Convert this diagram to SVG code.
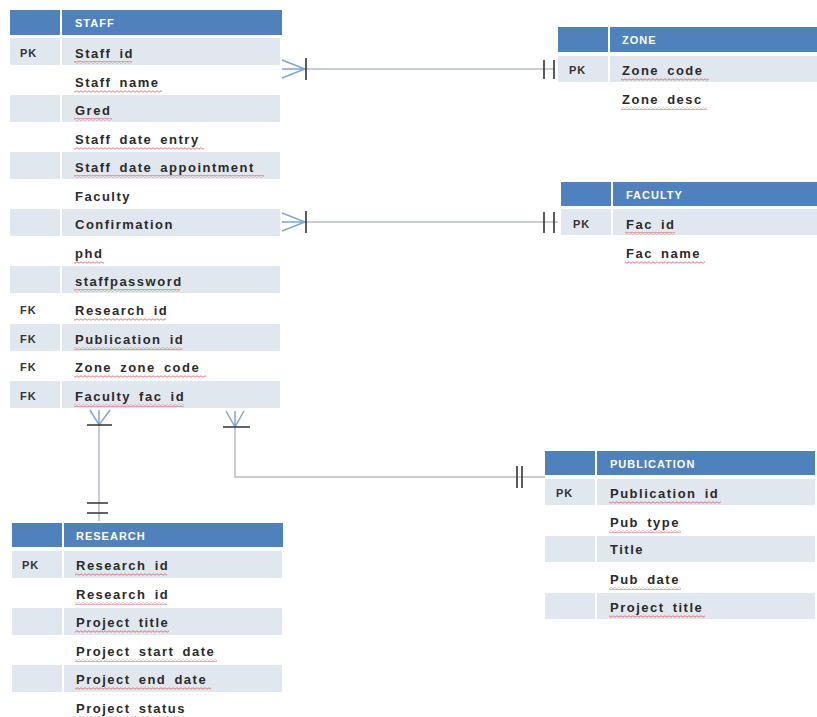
<svg xmlns="http://www.w3.org/2000/svg" width="817" height="717" viewBox="0 0 817 717">
  <style>
    .hd { fill: #4f81bd; }
    .band { fill: #e1e7ee; }
    .ht { font-family: "Liberation Sans", Arial, sans-serif; font-size: 11px; font-weight: bold; fill: #ffffff; letter-spacing: 1px; }
    .ft { font-family: "Liberation Sans", Arial, sans-serif; font-size: 13px; font-weight: bold; fill: #2a2a2a; letter-spacing: 1.5px; word-spacing: 3px; }
    .key { font-family: "Liberation Sans", Arial, sans-serif; font-size: 11px; font-weight: bold; fill: #333333; letter-spacing: 1px; }
    .sq { fill: url(#squiggle); }
    .line { fill: none; stroke: #b5bcc4; stroke-width: 1.5; }
    .crow { fill: none; stroke: #7fa7d3; stroke-width: 1.5; }
    .bar { fill: none; stroke: #333333; stroke-width: 1.6; }
  </style>
  <defs>
    <pattern id="squiggle" x="0" y="0" width="4" height="3" patternUnits="userSpaceOnUse">
      <path d="M0 1.5 Q1 0 2 1.5 T4 1.5" fill="none" stroke="#d9585a" stroke-width="0.8"/>
    </pattern>
  </defs>
  <rect width="817" height="717" fill="#ffffff"/>

  <!-- STAFF table -->
  <g id="staff">
    <rect class="hd" x="10" y="10" width="50" height="25"/>
    <rect class="hd" x="62" y="10" width="220" height="25"/>
    <text class="ht" x="75" y="27">STAFF</text>
    <rect class="band" x="10" y="38" width="50" height="27"/><rect class="band" x="62" y="38" width="218" height="27"/>
    <rect class="band" x="10" y="95" width="50" height="27"/><rect class="band" x="62" y="95" width="218" height="27"/>
    <rect class="band" x="10" y="152" width="50" height="27"/><rect class="band" x="62" y="152" width="218" height="27"/>
    <rect class="band" x="10" y="209" width="50" height="27"/><rect class="band" x="62" y="209" width="218" height="27"/>
    <rect class="band" x="10" y="266" width="50" height="27"/><rect class="band" x="62" y="266" width="218" height="27"/>
    <rect class="band" x="10" y="324" width="50" height="27"/><rect class="band" x="62" y="324" width="218" height="27"/>
    <rect class="band" x="10" y="381" width="50" height="27"/><rect class="band" x="62" y="381" width="218" height="27"/>
    <text class="key" x="20" y="57">PK</text>
    <text class="key" x="20" y="314">FK</text>
    <text class="key" x="20" y="343">FK</text>
    <text class="key" x="20" y="371">FK</text>
    <text class="key" x="20" y="400">FK</text>
    <text class="ft" x="75" y="58">Staff id</text>
    <text class="ft" x="75" y="87">Staff name</text>
    <text class="ft" x="75" y="115">Gred</text>
    <text class="ft" x="75" y="144">Staff date entry</text>
    <text class="ft" x="75" y="172">Staff date appointment</text>
    <text class="ft" x="75" y="201">Faculty</text>
    <text class="ft" x="75" y="229">Confirmation</text>
    <text class="ft" x="75" y="258">phd</text>
    <text class="ft" x="75" y="286">staffpassword</text>
    <text class="ft" x="75" y="315">Research id</text>
    <text class="ft" x="75" y="344">Publication id</text>
    <text class="ft" x="75" y="372">Zone zone code</text>
    <text class="ft" x="75" y="401">Faculty fac id</text>
    <rect class="sq" x="74" y="61" width="58" height="3"/>
    <rect class="sq" x="74" y="90" width="88" height="3"/>
    <rect class="sq" x="74" y="118" width="38" height="3"/>
    <rect class="sq" x="74" y="147" width="130" height="3"/>
    <rect class="sq" x="74" y="175" width="190" height="3"/>
    <rect class="sq" x="74" y="261" width="30" height="3"/>
    <rect class="sq" x="74" y="289" width="106" height="3"/>
    <rect class="sq" x="74" y="318" width="92" height="3"/>
    <rect class="sq" x="74" y="347" width="108" height="3"/>
    <rect class="sq" x="74" y="375" width="132" height="3"/>
    <rect class="sq" x="74" y="404" width="110" height="3"/>
  </g>

  <!-- ZONE table -->
  <g id="zone">
    <rect class="hd" x="558" y="27" width="50" height="25"/>
    <rect class="hd" x="610" y="27" width="207" height="25"/>
    <text class="ht" x="622" y="44">ZONE</text>
    <rect class="band" x="558" y="56" width="50" height="26"/><rect class="band" x="610" y="56" width="207" height="26"/>
    <text class="key" x="569" y="74">PK</text>
    <text class="ft" x="622" y="75">Zone code</text>
    <text class="ft" x="622" y="104">Zone desc</text>
    <rect class="sq" x="621" y="78" width="88" height="3"/>
    <rect class="sq" x="621" y="107" width="86" height="3"/>
  </g>

  <!-- FACULTY table -->
  <g id="faculty">
    <rect class="hd" x="561" y="182" width="50" height="24"/>
    <rect class="hd" x="613" y="182" width="204" height="24"/>
    <text class="ht" x="626" y="199">FACULTY</text>
    <rect class="band" x="561" y="209" width="50" height="26"/><rect class="band" x="613" y="209" width="204" height="26"/>
    <text class="key" x="573" y="228">PK</text>
    <text class="ft" x="626" y="229">Fac id</text>
    <text class="ft" x="626" y="258">Fac name</text>
    <rect class="sq" x="625" y="232" width="50" height="3"/>
    <rect class="sq" x="625" y="261" width="80" height="3"/>
  </g>

  <!-- PUBLICATION table -->
  <g id="publication">
    <rect class="hd" x="545" y="451" width="50" height="24"/>
    <rect class="hd" x="597" y="451" width="218" height="24"/>
    <text class="ht" x="610" y="468">PUBLICATION</text>
    <rect class="band" x="545" y="479" width="50" height="26"/><rect class="band" x="597" y="479" width="218" height="26"/>
    <rect class="band" x="545" y="536" width="50" height="26"/><rect class="band" x="597" y="536" width="218" height="26"/>
    <rect class="band" x="545" y="593" width="50" height="26"/><rect class="band" x="597" y="593" width="218" height="26"/>
    <text class="key" x="556" y="497">PK</text>
    <text class="ft" x="610" y="498">Publication id</text>
    <text class="ft" x="610" y="527">Pub type</text>
    <text class="ft" x="610" y="554">Title</text>
    <text class="ft" x="610" y="584">Pub date</text>
    <text class="ft" x="610" y="612">Project title</text>
    <rect class="sq" x="609" y="501" width="112" height="3"/>
    <rect class="sq" x="609" y="530" width="72" height="3"/>
    <rect class="sq" x="609" y="587" width="72" height="3"/>
    <rect class="sq" x="609" y="615" width="96" height="3"/>
  </g>

  <!-- RESEARCH table -->
  <g id="research">
    <rect class="hd" x="12" y="523" width="50" height="24"/>
    <rect class="hd" x="64" y="523" width="219" height="24"/>
    <text class="ht" x="76" y="540">RESEARCH</text>
    <rect class="band" x="12" y="551" width="50" height="27"/><rect class="band" x="64" y="551" width="218" height="27"/>
    <rect class="band" x="12" y="608" width="50" height="27"/><rect class="band" x="64" y="608" width="218" height="27"/>
    <rect class="band" x="12" y="665" width="50" height="27"/><rect class="band" x="64" y="665" width="218" height="27"/>
    <text class="key" x="22" y="569">PK</text>
    <text class="ft" x="76" y="570">Research id</text>
    <text class="ft" x="76" y="599">Research id</text>
    <text class="ft" x="76" y="627">Project title</text>
    <text class="ft" x="76" y="656">Project start date</text>
    <text class="ft" x="76" y="684">Project end date</text>
    <text class="ft" x="76" y="713">Project status</text>
    <rect class="sq" x="75" y="573" width="92" height="3"/>
    <rect class="sq" x="75" y="602" width="92" height="3"/>
    <rect class="sq" x="75" y="630" width="94" height="3"/>
    <rect class="sq" x="75" y="659" width="142" height="3"/>
    <rect class="sq" x="75" y="687" width="136" height="3"/>
    <rect class="sq" x="75" y="716" width="110" height="3"/>
  </g>

  <!-- Relationship lines -->
  <g id="connectors">
    <!-- STAFF to ZONE -->
    <path class="line" d="M305 69 H555"/>
    <path class="crow" d="M282 60 L305 69 L282 78 M282 69 H305"/>
    <path class="bar" d="M306 58 V80 M544 60 V79 M554 60 V79"/>
    <!-- STAFF to FACULTY -->
    <path class="line" d="M305 222 H558"/>
    <path class="crow" d="M282 213 L305 222 L282 231 M282 222 H305"/>
    <path class="bar" d="M306 211 V233 M544 212 V233 M554 212 V233"/>
    <!-- STAFF to RESEARCH -->
    <path class="line" d="M99 425 V521"/>
    <path class="crow" d="M90 410 L99 425 L110 410 M99 410 V425"/>
    <path class="bar" d="M87 425 H112 M87 503 H108 M87 513 H108"/>
    <!-- STAFF to PUBLICATION -->
    <path class="line" d="M235 427 V477 H545"/>
    <path class="crow" d="M226 411 L235 427 L244 411 M235 411 V427"/>
    <path class="bar" d="M223 427 H250 M517 466 V488 M522 466 V488"/>
  </g>
</svg>
